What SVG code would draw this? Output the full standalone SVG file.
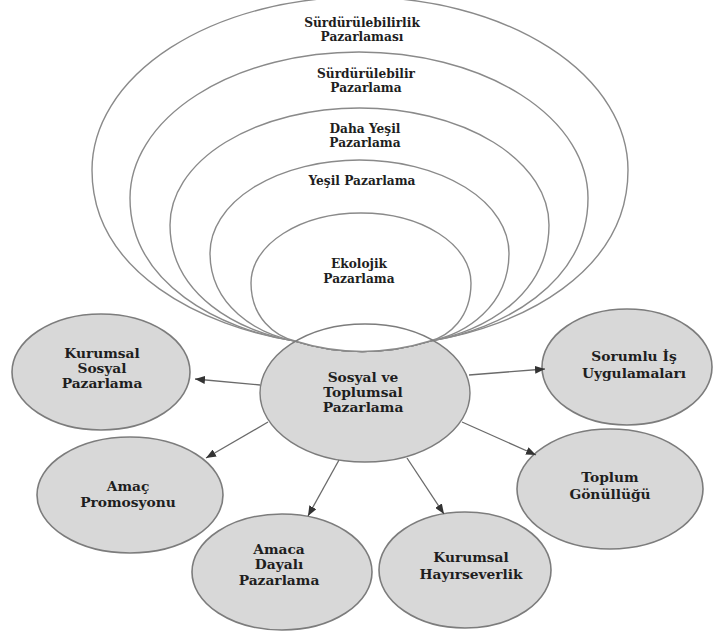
<svg xmlns="http://www.w3.org/2000/svg" width="713" height="635" viewBox="0 0 713 635">
<defs>
<style>
.nest{fill:#ffffff;stroke:#8a8a8a;stroke-width:1.4}
.node{fill:#d8d8d8;stroke:#7c7c7c;stroke-width:1.6}
.ring{fill:none;stroke:#7c7c7c;stroke-width:1.4}
.lbl{font-family:"DejaVu Serif","Liberation Serif",serif;font-weight:bold;font-size:13.8px;fill:#1e1e1e;text-anchor:middle}
.top{font-size:12.2px}
.conn line{stroke:#6a6a6a;stroke-width:1.3;marker-end:url(#ah)}
</style>
<marker id="ah" viewBox="0 0 10 8" refX="10" refY="4" markerWidth="10" markerHeight="8" markerUnits="userSpaceOnUse" orient="auto">
<path d="M0,0 L10,4 L0,8 Z" fill="#333333"/>
</marker>
</defs>
<rect x="0" y="0" width="713" height="635" fill="#ffffff"/>

<g id="center-fill">
<ellipse cx="365" cy="393" rx="105" ry="69" fill="#d8d8d8"/>
</g>

<g id="surdurulebilirlik">
<path class="nest" d="M92,170 A268,173 0 0 1 628,170 C628,273 519,327 430,341 Q362,362 295,341 C204,327 92,273 92,170 Z"/>
<text class="lbl top" x="362" y="27">Sürdürülebilirlik</text>
<text class="lbl top" x="362" y="41">Pazarlaması</text>
</g>
<g id="surdurulebilir">
<path class="nest" d="M130,198 A229,146 0 0 1 588,198 C588,284 501,330 430,341 Q362,362 295,341 C221,330 130,284 130,198 Z"/>
<text class="lbl top" x="366" y="78">Sürdürülebilir</text>
<text class="lbl top" x="366" y="92">Pazarlama</text>
</g>
<g id="daha-yesil">
<path class="nest" d="M170,225 A189.5,117 0 0 1 549,225 C549,295 484,332 430,341 Q362,362 295,341 C239,332 170,295 170,225 Z"/>
<text class="lbl top" x="365" y="133">Daha Yeşil</text>
<text class="lbl top" x="365" y="147">Pazarlama</text>
</g>
<g id="yesil">
<path class="nest" d="M210,253 A149.5,93 0 0 1 509,253 C509,306 466,334 430,341 Q362,362 295,341 C257,334 210,306 210,253 Z"/>
<text class="lbl top" x="362" y="185">Yeşil Pazarlama</text>
</g>
<g id="ekolojik">
<path class="nest" d="M251,283 A110,70 0 0 1 471,283 C471,318 449,336 430,341 Q362,362 295,341 C275,336 251,318 251,283 Z"/>
<text class="lbl top" x="359" y="268">Ekolojik</text>
<text class="lbl top" x="359" y="283">Pazarlama</text>
</g>

<g id="sosyal-toplumsal">
<ellipse class="ring" cx="365" cy="393" rx="105" ry="69"/>
<text class="lbl" x="363" y="382">Sosyal ve</text>
<text class="lbl" x="363" y="397">Toplumsal</text>
<text class="lbl" x="363" y="412">Pazarlama</text>
</g>

<g id="kurumsal-sosyal">
<ellipse class="node" cx="101" cy="372" rx="89" ry="58"/>
<text class="lbl" x="102" y="358">Kurumsal</text>
<text class="lbl" x="102" y="373">Sosyal</text>
<text class="lbl" x="102" y="388">Pazarlama</text>
</g>
<g id="sorumlu">
<ellipse class="node" cx="627" cy="367" rx="85" ry="58"/>
<text class="lbl" x="634" y="361">Sorumlu İş</text>
<text class="lbl" x="634" y="378">Uygulamaları</text>
</g>
<g id="amac-promosyonu">
<ellipse class="node" cx="130" cy="495" rx="93" ry="58"/>
<text class="lbl" x="128" y="491">Amaç</text>
<text class="lbl" x="128" y="507">Promosyonu</text>
</g>
<g id="toplum-gonullugu">
<ellipse class="node" cx="610" cy="489" rx="93" ry="60"/>
<text class="lbl" x="610" y="482">Toplum</text>
<text class="lbl" x="610" y="499">Gönüllüğü</text>
</g>
<g id="amaca-dayali">
<ellipse class="node" cx="282" cy="572" rx="90" ry="58"/>
<text class="lbl" x="279" y="554">Amaca</text>
<text class="lbl" x="279" y="569">Dayalı</text>
<text class="lbl" x="279" y="585">Pazarlama</text>
</g>
<g id="kurumsal-hayirseverlik">
<ellipse class="node" cx="465" cy="570" rx="86" ry="58"/>
<text class="lbl" x="471" y="562">Kurumsal</text>
<text class="lbl" x="471" y="579">Hayırseverlik</text>
</g>

<g id="connectors" class="conn">
<line x1="260" y1="385" x2="195" y2="379"/>
<line x1="268" y1="422" x2="206" y2="458"/>
<line x1="339" y1="460" x2="308" y2="516"/>
<line x1="407" y1="458" x2="444" y2="514"/>
<line x1="462" y1="422" x2="536" y2="455"/>
<line x1="469" y1="375" x2="545" y2="369"/>
</g>
</svg>
